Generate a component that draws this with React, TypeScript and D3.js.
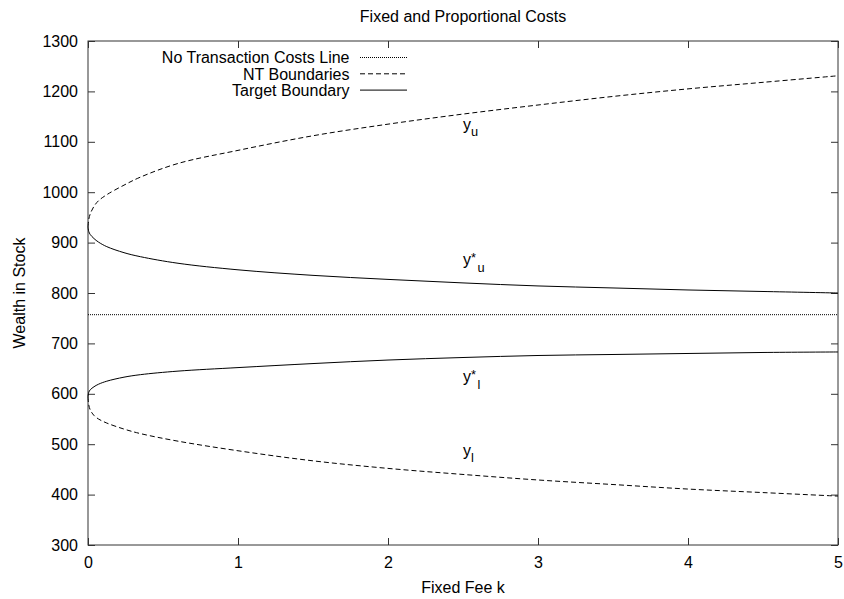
import React from 'react';
import * as d3 from 'd3';

const FONT = '"Liberation Sans", Arial, Helvetica, sans-serif';

// fixed fee k (x) and the wealth-in-stock boundaries
const kValues = [0, 0.005, 0.015, 0.04, 0.07, 0.125, 0.24, 0.35, 0.6, 1, 1.5, 2, 2.5, 3, 3.5, 4, 4.5, 5];
const upperNT = [931, 946, 957, 972, 983, 995, 1014, 1030, 1057, 1083, 1112, 1135, 1155, 1173, 1190, 1205, 1218, 1231];
const upperTarget = [931, 922, 916, 908, 901, 892, 880, 872, 859, 846, 835, 827, 820, 814, 810, 806, 803, 800];
const lowerTarget = [594, 603, 608, 614, 619, 625, 633, 638, 645, 652, 660, 667, 672, 676, 678, 680, 682, 683];
const lowerNT = [594, 578, 568, 557, 550, 542, 530, 521, 506, 487, 467, 452, 440, 429, 420, 411, 404, 397];
const noCostLevel = 757;

const xTicks = [0, 1, 2, 3, 4, 5];
const yTicks = [300, 400, 500, 600, 700, 800, 900, 1000, 1100, 1200, 1300];

const legendItems = [
  {label: 'No Transaction Costs Line', dash: '1,1'},
  {label: 'NT Boundaries', dash: '5,3'},
  {label: 'Target Boundary', dash: null},
];

// curve labels: base, superscript, subscript, at (k, value)
const curveLabels = [
  {k: 2.5, v: 1123, sup: '', sub: 'u'},
  {k: 2.5, v: 856, sup: '*', sub: 'u'},
  {k: 2.5, v: 623, sup: '*', sub: 'l'},
  {k: 2.5, v: 477, sup: '', sub: 'l'},
];

export default function App() {
  const ref = React.useRef<SVGSVGElement>(null);

  React.useEffect(() => {
    if (!ref.current) return;
    const svg = d3.select(ref.current);
    svg.selectAll('*').remove();

    const x = d3.scaleLinear().domain([0, 5]).range([88, 838]);
    const y = d3.scaleLinear().domain([300, 1300]).range([545, 41]);

    const styleAxis = (g: any) => {
      g.select('.domain').remove();
      g.selectAll('line').attr('stroke', '#333');
      g.selectAll('text').attr('font-size', 16).attr('font-family', FONT).attr('fill', '#000');
    };

    svg.append('g').attr('transform', 'translate(88,0)')
      .call(d3.axisLeft(y).tickValues(yTicks).tickSizeInner(-7).tickSizeOuter(0).tickPadding(10).tickFormat(d3.format('d')))
      .call(styleAxis);
    svg.append('g').attr('transform', 'translate(838,0)')
      .call(d3.axisRight(y).tickValues(yTicks).tickSizeInner(-7).tickSizeOuter(0).tickFormat(() => ''))
      .call(styleAxis);
    svg.append('g').attr('transform', 'translate(0,41)')
      .call(d3.axisTop(x).tickValues(xTicks).tickSizeInner(-7).tickSizeOuter(0).tickFormat(() => ''))
      .call(styleAxis);
    svg.append('g').attr('transform', 'translate(0,545)')
      .call(d3.axisBottom(x).tickValues(xTicks).tickSizeInner(-7).tickSizeOuter(0).tickPadding(12).tickFormat(d3.format('d')))
      .call(styleAxis);

    // frame
    svg.append('rect')
      .attr('x', x(0)).attr('y', y(1300))
      .attr('width', x(5) - x(0)).attr('height', y(300) - y(1300))
      .attr('fill', 'none').attr('stroke', '#333');

    // no transaction costs line
    svg.append('line')
      .attr('x1', x(0)).attr('x2', x(5))
      .attr('y1', y(noCostLevel)).attr('y2', y(noCostLevel))
      .attr('stroke', '#000').attr('stroke-dasharray', '1,1');

    const line = d3.line<number>()
      .x((_, i) => x(kValues[i]))
      .y(d => y(d))
      .curve(d3.curveCatmullRom.alpha(0.5));

    const series = [
      {values: upperNT, dash: '5,3'},
      {values: lowerNT, dash: '5,3'},
      {values: upperTarget, dash: null},
      {values: lowerTarget, dash: null},
    ];
    series.forEach(s => {
      svg.append('path')
        .attr('d', line(s.values))
        .attr('fill', 'none')
        .attr('stroke', '#000')
        .attr('stroke-width', 1)
        .attr('stroke-dasharray', s.dash);
    });

    // curve labels
    curveLabels.forEach(l => {
      const t = svg.append('text')
        .attr('x', x(l.k)).attr('y', y(l.v))
        .attr('font-family', FONT).attr('font-size', 16).attr('fill', '#000')
        .text('y');
      if (l.sup) {
        t.append('tspan').attr('font-size', 12.8).attr('dy', -3).text(l.sup);
        t.append('tspan').attr('font-size', 12.8).attr('dx', 1.5).attr('dy', 10).text(l.sub);
      } else {
        t.append('tspan').attr('font-size', 12.8).attr('dy', 6).text(l.sub);
      }
    });

    // legend
    const legend = svg.append('g').attr('font-family', FONT).attr('font-size', 16);
    legendItems.forEach((item, i) => {
      const cy = 57.5 + i * 16.3;
      legend.append('text')
        .attr('x', 349.5).attr('y', cy + 5.7)
        .attr('text-anchor', 'end').attr('fill', '#000')
        .text(item.label);
      legend.append('line')
        .attr('x1', 360).attr('x2', 407)
        .attr('y1', cy).attr('y2', cy)
        .attr('stroke', '#000')
        .attr('stroke-dasharray', item.dash);
    });

    // title and axis labels
    svg.append('text')
      .attr('x', 463).attr('y', 21.5)
      .attr('text-anchor', 'middle').attr('font-family', FONT).attr('font-size', 16)
      .text('Fixed and Proportional Costs');
    svg.append('text')
      .attr('x', 463).attr('y', 593)
      .attr('text-anchor', 'middle').attr('font-family', FONT).attr('font-size', 16)
      .text('Fixed Fee k');
    svg.append('text')
      .attr('transform', 'translate(25,293) rotate(-90)')
      .attr('text-anchor', 'middle').attr('font-family', FONT).attr('font-size', 16)
      .text('Wealth in Stock');
  }, []);

  return (
    <div style={{position: 'absolute', left: 0, top: 0}}>
      <svg ref={ref} width={844} height={599} style={{display: 'block', background: '#fff'}} />
    </div>
  );
}
